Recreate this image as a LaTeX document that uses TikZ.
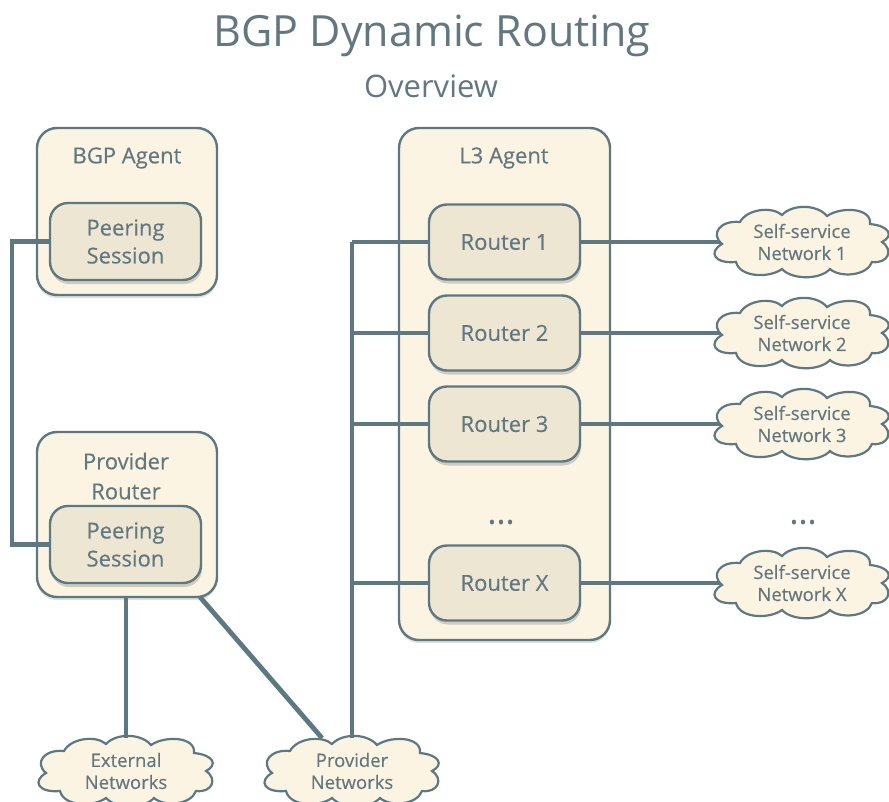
\documentclass[tikz,border=0pt]{standalone}
\usepackage{fontspec}
\setmainfont{Open Sans}
\newfontfamily\medfont[FakeBold=0.35]{Open Sans}
\usetikzlibrary{shadows}
\definecolor{ink}{HTML}{5E7882}
\definecolor{txt}{HTML}{62777F}
\definecolor{outerfill}{HTML}{FCF4E2}
\definecolor{innerfill}{HTML}{EDE6D3}
\tikzset{
  outerbox/.style={draw=ink, line width=2.4pt, fill=outerfill, rounded corners=20pt, drop shadow={shadow xshift=0pt, shadow yshift=-3pt, opacity=0.25}},
  innerbox/.style={draw=ink, line width=2.4pt, fill=innerfill, rounded corners=18pt, drop shadow={shadow xshift=1pt, shadow yshift=-4pt, opacity=0.35}, inner sep=0pt},
  lbl/.style={text=txt, font=\medfont\fontsize{22}{28}\selectfont, align=center},
  cloudlbl/.style={text=txt, font=\medfont\fontsize{18.5}{22}\selectfont, align=center, minimum width=168pt, minimum height=58pt, inner sep=0pt},
  cloudline/.style={draw=ink, line width=2.2pt, fill=outerfill},
  wire/.style={draw=ink, line width=4.8pt},
}
\newcommand\netcloud[4]{%
  \draw[cloudline, shift={(#2,#3)}] (-80,2)
    .. controls (-92,-8) and (-82,-22) .. (-62,-20)
    .. controls (-55,-33) and (-30,-36) .. (-20,-27)
    .. controls (-10,-38) and (15,-38) .. (25,-26)
    .. controls (40,-36) and (70,-34) .. (68,-18)
    .. controls (88,-16) and (92,-6) .. (80,0)
    .. controls (92,8) and (86,22) .. (70,20)
    .. controls (65,34) and (38,36) .. (28,27)
    .. controls (18,38) and (-10,38) .. (-20,27)
    .. controls (-32,36) and (-62,36) .. (-66,20)
    .. controls (-88,22) and (-94,10) .. cycle;
  \node[cloudlbl] (#1) at (#2,#3) {#4};
}
\begin{document}
\begin{tikzpicture}[x=1pt,y=-1pt]
\useasboundingbox (0,0) rectangle (889,801);
% titles
\node[text=txt, font=\fontsize{43}{48}\selectfont] (title) at (432,36) {BGP Dynamic Routing};
\node[text=txt, font=\fontsize{31}{36}\selectfont] (sub) at (431,86) {Overview};
% BGP agent
\draw[outerbox] (37,128) rectangle (217,295);
\node[lbl] (bgplbl) at (127,158) {BGP Agent};
\node[innerbox, minimum width=151pt, minimum height=77pt, lbl] (ps1) at (125.5,241.5) {Peering\\Session};
% Provider router
\draw[outerbox] (37,432) rectangle (217,597);
\coordinate (prbr) at (200,597);
\coordinate (prbot) at (126,597);
\node[lbl, font=\medfont\fontsize{22}{30}\selectfont] (prlbl) at (126,476) {Provider\\Router};
\node[innerbox, minimum width=151pt, minimum height=77pt, lbl] (ps2) at (125.5,544.5) {Peering\\Session};
% L3 agent
\draw[outerbox] (399,128) rectangle (610,640);
\node[lbl] (l3lbl) at (504,158) {L3 Agent};
\node[innerbox, minimum width=151pt, minimum height=75pt, lbl] (r1) at (504.5,242) {Router 1};
\node[innerbox, minimum width=151pt, minimum height=75pt, lbl] (r2) at (504.5,333) {Router 2};
\node[innerbox, minimum width=151pt, minimum height=75pt, lbl] (r3) at (504.5,424) {Router 3};
\node[innerbox, minimum width=151pt, minimum height=75pt, lbl] (rx) at (504.5,583) {Router X};
\node[lbl, font=\medfont\fontsize{34}{36}\selectfont] (dots1) at (501,522) {...};
% clouds
\netcloud{n1}{802}{242}{Self-service\\Network 1}
\netcloud{n2}{802}{333}{Self-service\\Network 2}
\netcloud{n3}{802}{424}{Self-service\\Network 3}
\netcloud{nx}{802}{583}{Self-service\\Network X}
\node[lbl, font=\medfont\fontsize{34}{36}\selectfont] (dots2) at (803,522) {...};
\netcloud{ext}{126}{771}{External\\Networks}
\netcloud{prov}{352}{771}{Provider\\Networks}
% wires
\coordinate (lt) at (12,241.5);
\coordinate (lb) at (12,544.5);
\draw[wire, line join=miter] (ps1.west) -- (lt) -- (lb) -- (ps2.west);
\coordinate (bus1) at (352,242);
\coordinate (bus2) at (352,333);
\coordinate (bus3) at (352,424);
\coordinate (busx) at (352,583);
\coordinate (provtop) at (352,738);
\coordinate (provtl) at (322,738);
\coordinate (exttop) at (126,738);
\coordinate (n1w) at (720,242);
\coordinate (n2w) at (720,333);
\coordinate (n3w) at (720,424);
\coordinate (nxw) at (720,583);
\draw[wire] (bus1) -- (provtop);
\draw[wire] (bus1) -- (r1.west);
\draw[wire] (bus2) -- (r2.west);
\draw[wire] (bus3) -- (r3.west);
\draw[wire] (busx) -- (rx.west);
\draw[wire] (r1.east) -- (n1w);
\draw[wire] (r2.east) -- (n2w);
\draw[wire] (r3.east) -- (n3w);
\draw[wire] (rx.east) -- (nxw);
\draw[wire] (prbot) -- (exttop);
\draw[wire] (prbr) -- (provtl);
\end{tikzpicture}
\end{document}
